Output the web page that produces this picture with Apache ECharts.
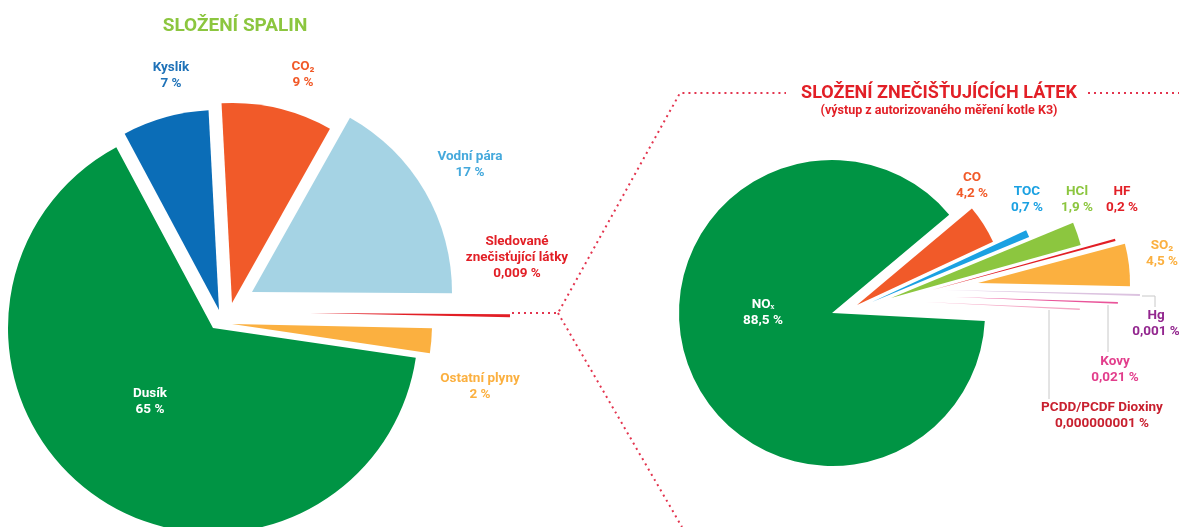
<!DOCTYPE html>
<html>
<head>
<meta charset="utf-8">
<script src="https://cdn.jsdelivr.net/npm/echarts@6/dist/echarts.min.js"></script>
<style>
  html, body { margin: 0; background: #fff; }
  #chart { width: 1179px; height: 527px; }
</style>
</head>
<body>
<div id="chart"></div>
<script>
// složení spalin (levý koláč), pořadí po směru hodinových ručiček
const spalinyNames = ['CO₂', 'Vodní pára', 'Sledované\nznečisťující látky', 'Ostatní plyny', 'Dusík', 'Kyslík'];
const spalinyValues = [9, 17, 0.009, 2, 65, 7];

// složení znečišťujících látek (pravý koláč)
const latkyNames = ['CO', 'TOC', 'HCl', 'HF', 'SO₂', 'Hg', 'Kovy', 'PCDD/PCDF Dioxiny', 'NOₓ'];
const latkyValues = [4.2, 0.7, 1.9, 0.2, 4.5, 0.001, 0.021, 0.000000001, 88.5];

// vzhled: barvy, vysunuté středy výsečí, poloměry a místa popisků
const spalinyStyle = {
  startAngle: 93,
  minAngle: 0.8,
  colors: ['#f15a29', '#a5d3e4', '#e21f26', '#fbb040', '#009444', '#0b6db7'],
  labelColors: ['#f15a29', '#45a9dc', '#e21f26', '#fbb040', '#ffffff', '#1f72b8'],
  centers: [[232, 303], [252, 292], [310, 313], [232, 324], [213, 328], [219, 310]],
  radius: [200, 200, 200, 200, 205, 200],
  labelPos: [[303, 75], [470, 165], [517, 258], [480, 387], [150, 402], [171, 76]]
};

const latkyStyle = {
  startAngle: 40,
  minAngle: 0.6,
  colors: ['#f15a29', '#1ba1e2', '#8cc63f', '#e21f26', '#fbb040', '#dcc3e0', '#e9559a', '#f4a7c5', '#009444'],
  labelColors: ['#f15a29', '#1ba1e2', '#8cc63f', '#e21f26', '#fbb040', '#93278f', '#e23e8c', '#c8202f', '#ffffff'],
  centers: [[857, 305], [872, 302], [891, 298], [932, 290], [978, 283], [945, 290], [955, 297], [925, 302], [832, 313]],
  radius: [150, 170, 197, 190, 152, 195, 163, 155, 153],
  labelPos: [[972, 186], [1027, 200], [1077, 200], [1122, 200], [1162, 254], [1156, 324], [1115, 370], [1102, 416], [763, 313]]
};

function fmt(v) {
  return v.toFixed(9).replace(/\.?0+$/, '').replace('.', ',') + ' %';
}

// každá výseč je vlastní série (kvůli vysunutí), úhly ale počítá knihovna z celých dat
function buildPie(names, values, st) {
  return names.map((_, i) => ({
    type: 'pie',
    center: st.centers[i],
    radius: [0, st.radius[i]],
    startAngle: st.startAngle,
    minAngle: st.minAngle,
    clockwise: true,
    avoidLabelOverlap: false,
    silent: true,
    animation: false,
    itemStyle: { borderWidth: 0 },
    label: { show: false },
    labelLine: { show: false },
    emphasis: { disabled: true },
    data: names.map((name, j) => ({
      name: name,
      value: values[j],
      itemStyle: { color: j === i ? st.colors[j] : 'rgba(0,0,0,0)' },
      label: j === i ? {
        show: true,
        position: 'outside',
        formatter: () => name + '\n' + fmt(values[j]),
        color: st.labelColors[j],
        fontFamily: 'Roboto',
        fontWeight: 'bold',
        fontSize: 13.5,
        lineHeight: 16,
        align: 'center'
      } : { show: false }
    })),
    labelLayout: p => p.dataIndex === i
      ? { x: st.labelPos[i][0], y: st.labelPos[i][1], align: 'center', verticalAlign: 'middle' }
      : {}
  }));
}

const chart = echarts.init(document.getElementById('chart'));
const dotted = { stroke: '#e3344e', lineWidth: 2, lineDash: [2, 4], fill: null };
const guide = { stroke: '#c8c8c8', lineWidth: 1, fill: null };

const option = {
  backgroundColor: '#fff',
  title: [
    {
      text: 'SLOŽENÍ SPALIN',
      left: 230, top: 12, textAlign: 'center',
      textStyle: { color: '#8cc63f', fontSize: 19, fontWeight: 'bold', fontFamily: 'Roboto' }
    },
    {
      text: 'SLOŽENÍ ZNEČIŠŤUJÍCÍCH LÁTEK',
      subtext: '(výstup z autorizovaného měření kotle K3)',
      left: 934, top: 79, textAlign: 'center', itemGap: 2,
      textStyle: { color: '#e21f26', fontSize: 18, fontWeight: 'bold', fontFamily: 'Roboto' },
      subtextStyle: { color: '#e21f26', fontSize: 12.5, fontWeight: 'bold', fontFamily: 'Roboto' }
    }
  ],
  graphic: [
    { type: 'polyline', silent: true, shape: { points: [[512, 313], [558, 313], [680, 93], [786, 93]] }, style: dotted },
    { type: 'polyline', silent: true, shape: { points: [[558, 313], [682, 527]] }, style: dotted },
    { type: 'polyline', silent: true, shape: { points: [[1088, 93], [1179, 93]] }, style: dotted },
    { type: 'polyline', silent: true, shape: { points: [[1142, 296], [1155, 296], [1155, 307]] }, style: guide },
    { type: 'polyline', silent: true, shape: { points: [[1108, 305], [1108, 352]] }, style: guide },
    { type: 'polyline', silent: true, shape: { points: [[1049, 310], [1049, 399]] }, style: guide }
  ],
  series: buildPie(spalinyNames, spalinyValues, spalinyStyle)
    .concat(buildPie(latkyNames, latkyValues, latkyStyle))
};

chart.setOption(option);
</script>
</body>
</html>
